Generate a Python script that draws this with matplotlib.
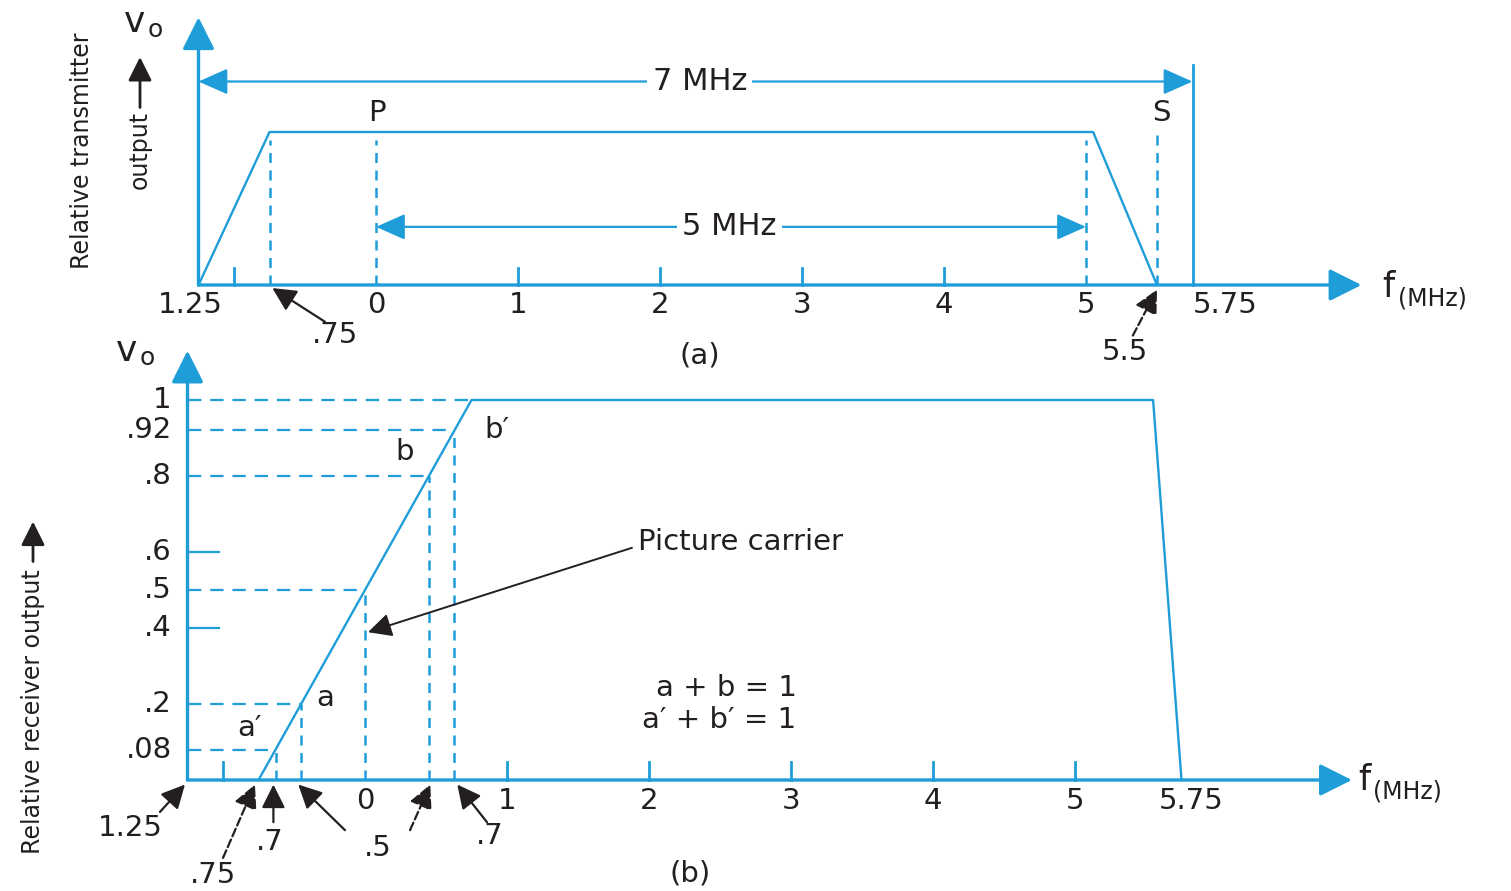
import numpy as np
import matplotlib
matplotlib.use('Agg')
import matplotlib.pyplot as plt

BLUE = '#1f9dd9'
INK = '#231f20'
plt.rcParams['font.family'] = ['DejaVu Sans']

# ---------------- panel (a): transmitter output ----------------
a_env_f = [-1.25, -0.75, 5.05, 5.5]
a_env_v = [0, 1, 1, 0]
a_marker_f = [-0.75, 0, 5, 5.5]
a_marker_top = [0.95, 0.95, 0.95, 0.98]
a_ticks = [-1, 1, 2, 3, 4]
a_tick_f = [-1.25, 0, 1, 2, 3, 4, 5, 5.75]
a_tick_labels = ['1.25', '0', '1', '2', '3', '4', '5', '5.75']
a_channel_edges = [-1.25, 5.75]   # 7 MHz
a_video_edges = [0, 5]            # 5 MHz

# ---------------- panel (b): receiver output ----------------
b_resp_f = [-0.75, 0.75, 5.55, 5.75]
b_resp_v = [0, 1, 1, 0]
b_levels = [1, 0.92, 0.8, 0.5, 0.2, 0.08]
b_level_labels = ['1', '.92', '.8', '.5', '.2', '.08']
b_minor_levels = [0.6, 0.4]
b_minor_labels = ['.6', '.4']
b_ticks = [-1, 1, 2, 3, 4, 5]
b_tick_f = [0, 1, 2, 3, 4, 5, 5.75]
b_tick_labels = ['0', '1', '2', '3', '4', '5', '5.75']

W, H = 1511, 891
fig = plt.figure(figsize=(W / 100, H / 100), dpi=100)

# axes spanning the figure; data limits chosen so the panels sit where they do
axA = fig.add_axes([0, 0, 1, 1])
axA.set_xlim((0 - 376) / 142, (W - 376) / 142)
axA.set_ylim((285 - H) / 153, 285 / 153)
axA.axis('off')

axB = fig.add_axes([0, 0, 1, 1])
axB.set_xlim((0 - 365) / 142, (W - 365) / 142)
axB.set_ylim((780 - H) / 380, 780 / 380)
axB.axis('off')

FS = 21


def axis_arrow(ax, start, end, lw=2.4):
    ax.annotate('', xy=end, xytext=start,
                arrowprops=dict(arrowstyle='-|>,head_length=0.9,head_width=0.45',
                                color=BLUE, lw=lw, mutation_scale=22,
                                shrinkA=0, shrinkB=0))


def pointer(ax, start, end, ls='-'):
    ax.annotate('', xy=end, xytext=start,
                arrowprops=dict(arrowstyle='-|>,head_length=0.9,head_width=0.45',
                                color=INK, lw=1.6, ls=ls, mutation_scale=16,
                                shrinkA=0, shrinkB=0))


# ======== panel (a) ========
f0 = a_env_f[0]
axis_arrow(axA, (f0, 0), (f0, 1.75))
axis_arrow(axA, (f0, 0), (6.94, 0))
axA.plot(a_env_f, a_env_v, color=BLUE, lw=1.7)
for f, t in zip(a_marker_f, a_marker_top):
    axA.plot([f, f], [0, t], color=BLUE, lw=1.8, ls=(0, (4, 3)))
axA.plot([a_channel_edges[1]] * 2, [0, 1.44], color=BLUE, lw=2)
for t in a_ticks:
    axA.plot([t, t], [0, 0.11], color=BLUE, lw=2)

axA.annotate('', xy=(a_channel_edges[1], 1.33), xytext=(a_channel_edges[0], 1.33),
             arrowprops=dict(arrowstyle='<|-|>,head_length=0.9,head_width=0.4',
                             color=BLUE, lw=1.6, mutation_scale=20, shrinkA=0, shrinkB=0))
axA.text(2.28, 1.33, '7 MHz', fontsize=22, color=INK, ha='center', va='center',
         bbox=dict(facecolor='white', edgecolor='none', pad=4))
axA.annotate('', xy=(a_video_edges[1], 0.38), xytext=(a_video_edges[0], 0.38),
             arrowprops=dict(arrowstyle='<|-|>,head_length=0.9,head_width=0.4',
                             color=BLUE, lw=1.6, mutation_scale=20, shrinkA=0, shrinkB=0))
axA.text(2.49, 0.38, '5 MHz', fontsize=22, color=INK, ha='center', va='center',
         bbox=dict(facecolor='white', edgecolor='none', pad=4))

for f, lab in zip(a_tick_f, a_tick_labels):
    dx = {'1.25': -0.06, '5.75': 0.23}.get(lab, 0)
    axA.text(f + dx, -0.13, lab, fontsize=FS, color=INK, ha='center', va='center')

axA.text(0.01, 1.124, 'P', fontsize=FS, color=INK, ha='center', va='center')
axA.text(5.53, 1.124, 'S', fontsize=FS, color=INK, ha='center', va='center')
axA.text(2.28, -0.46, '(a)', fontsize=FS, color=INK, ha='center', va='center')

axA.text(-0.29, -0.33, '.75', fontsize=FS, color=INK, ha='center', va='center')
pointer(axA, (-0.36, -0.24), (-0.73, -0.02))
axA.text(5.275, -0.44, '5.5', fontsize=FS, color=INK, ha='center', va='center')
pointer(axA, (5.33, -0.33), (5.50, -0.03), ls='--')

axA.text(7.13, -0.01, 'f', fontsize=25, color=INK, ha='center', va='center')
axA.text(7.20, -0.085, '(MHz)', fontsize=17, color=INK, ha='left', va='center')
axA.text(-1.70, 1.72, 'v', fontsize=26, color=INK, ha='center', va='center')
axA.text(-1.61, 1.667, 'o', fontsize=18, color=INK, ha='left', va='center')

axA.text(-2.07, 0.88, 'Relative transmitter', fontsize=17, color=INK,
         rotation=90, ha='center', va='center')
axA.text(-1.662, 0.88, 'output', fontsize=17, color=INK,
         rotation=90, ha='center', va='center')
axA.annotate('', xy=(-1.662, 1.49), xytext=(-1.662, 1.16),
             arrowprops=dict(arrowstyle='-|>,head_length=0.9,head_width=0.45',
                             color=INK, lw=2, mutation_scale=16, shrinkA=0, shrinkB=0))

# ======== panel (b) ========
g0 = -1.25
axis_arrow(axB, (g0, 0), (g0, 1.13))
axis_arrow(axB, (g0, 0), (6.95, 0))
axB.plot(b_resp_f, b_resp_v, color=BLUE, lw=1.7)

for lv, lab in zip(b_levels, b_level_labels):
    fx = float(np.interp(lv, b_resp_v[:2], b_resp_f[:2]))
    axB.plot([g0, fx], [lv, lv], color=BLUE, lw=1.6, ls=(0, (6, 4)))
    if lv < 1:
        axB.plot([fx, fx], [0, lv], color=BLUE, lw=1.8, ls=(0, (4, 3)))
    axB.text(-1.36, lv, lab, fontsize=FS, color=INK, ha='right', va='center')
for lv, lab in zip(b_minor_levels, b_minor_labels):
    axB.plot([g0, g0 + 0.22], [lv, lv], color=BLUE, lw=1.6)
    axB.text(-1.36, lv, lab, fontsize=FS, color=INK, ha='right', va='center')
for t in b_ticks:
    axB.plot([t, t], [0, 0.047], color=BLUE, lw=2)

for f, lab in zip(b_tick_f, b_tick_labels):
    dx = 0.07 if lab == '5.75' else 0
    axB.text(f + dx, -0.055, lab, fontsize=FS, color=INK, ha='center', va='center')

axB.text(7.04, 0.0, 'f', fontsize=25, color=INK, ha='center', va='center')
axB.text(7.10, -0.03, '(MHz)', fontsize=17, color=INK, ha='left', va='center')
axB.text(-1.68, 1.13, 'v', fontsize=26, color=INK, ha='center', va='center')
axB.text(-1.59, 1.11, 'o', fontsize=18, color=INK, ha='left', va='center')

axB.text(-2.338, 0.179, 'Relative receiver output', fontsize=17, color=INK,
         rotation=90, ha='center', va='center')
axB.annotate('', xy=(-2.338, 0.68), xytext=(-2.338, 0.575),
             arrowprops=dict(arrowstyle='-|>,head_length=0.9,head_width=0.45',
                             color=INK, lw=2, mutation_scale=16, shrinkA=0, shrinkB=0))

axB.text(-0.81, 0.137, 'a\u2032', fontsize=FS, color=INK, ha='center', va='center')
axB.text(-0.282, 0.216, 'a', fontsize=FS, color=INK, ha='center', va='center')
axB.text(0.282, 0.863, 'b', fontsize=FS, color=INK, ha='center', va='center')
axB.text(0.93, 0.921, 'b\u2032', fontsize=FS, color=INK, ha='center', va='center')

axB.text(3.04, 0.242, 'a + b = 1', fontsize=FS, color=INK, ha='right', va='center')
axB.text(3.04, 0.158, 'a\u2032 + b\u2032 = 1', fontsize=FS, color=INK, ha='right', va='center')
axB.text(2.29, -0.245, '(b)', fontsize=FS, color=INK, ha='center', va='center')

axB.text(1.92, 0.626, 'Picture carrier', fontsize=FS, color=INK, ha='left', va='center')
axB.annotate('', xy=(0.021, 0.389), xytext=(1.88, 0.611),
             arrowprops=dict(arrowstyle='-|>,head_length=0.9,head_width=0.45',
                             color=INK, lw=1.4, mutation_scale=16, shrinkA=0, shrinkB=0))

axB.text(-1.655, -0.126, '1.25', fontsize=FS, color=INK, ha='center', va='center')
pointer(axB, (-1.444, -0.084), (-1.268, -0.012))
axB.text(-1.07, -0.25, '.75', fontsize=FS, color=INK, ha='center', va='center')
pointer(axB, (-1.0, -0.205), (-0.775, -0.012), ls='--')
axB.text(-0.669, -0.163, '.7', fontsize=FS, color=INK, ha='center', va='center')
pointer(axB, (-0.645, -0.111), (-0.645, -0.012))
axB.text(0.092, -0.179, '.5', fontsize=FS, color=INK, ha='center', va='center')
pointer(axB, (-0.141, -0.132), (-0.47, -0.012))
pointer(axB, (0.317, -0.132), (0.46, -0.012), ls='--')
axB.text(0.88, -0.147, '.7', fontsize=FS, color=INK, ha='center', va='center')
pointer(axB, (0.859, -0.111), (0.65, -0.012))

fig.savefig('out.png', dpi=100, facecolor='white')
